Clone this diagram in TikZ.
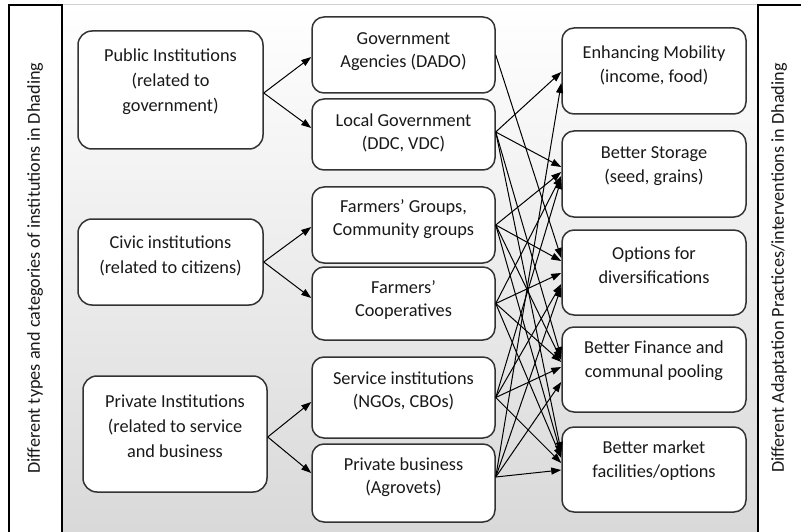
\documentclass[tikz,border=0pt]{standalone}
\usepackage{fontspec}
\setmainfont{Carlito}
\usetikzlibrary{arrows.meta}
\begin{document}
\begin{tikzpicture}[x=1pt,y=-1pt,
  box/.style={draw=black!80, line width=1.5pt, fill=white, rounded corners=12pt, inner sep=0pt},
  labbox/.style={draw=black, line width=1.2pt, fill=white, inner sep=0pt},
  txt/.style={align=center, font=\fontsize{18.3}{25}\selectfont, text=black!90, inner sep=0pt},
  mtxt/.style={txt, font=\fontsize{18.3}{23}\selectfont},
  rtxt/.style={txt, font=\fontsize{18.3}{24}\selectfont},
  vtxt/.style={font=\fontsize{18.2}{22}\selectfont, text=black!90, inner sep=0pt, rotate=90},
  arr/.style={-{Triangle[length=10pt,width=7pt]}, line width=1pt},
]
\useasboundingbox (0,0) rectangle (801,532);
% background
\fill[top color=white, bottom color=gray!30] (62,5) rectangle (758,534);
\draw[gray!35, line width=1pt] (62,5) -- (758,5);
% side label boxes
\node[labbox, minimum width=53pt, minimum height=528pt] (labL) at (35.5,269) {};
\node[vtxt] (labLt) at (35,268) {Different types and categories of institutions in Dhading};
\node[labbox, minimum width=47pt, minimum height=528pt] (labR) at (781.5,269) {};
\node[vtxt] (labRt) at (779,268) {Different Adaptation Practices/interventions in Dhading};
% left boxes
\node[box, rounded corners=14pt, minimum width=185pt, minimum height=118pt] (pub) at (170.5,90) {};
\node[txt] (pubt) at (170.5,81.5) {Public Institutions\\(related to\\government)};
\node[box, rounded corners=14pt, minimum width=185pt, minimum height=86pt] (civ) at (170.5,262) {};
\node[txt] (civt) at (170.5,255.5) {Civic institutions\\(related to citizens)};
\node[box, rounded corners=14pt, minimum width=184pt, minimum height=116pt] (pri) at (175,434) {};
\node[txt] (prit) at (175,426) {Private Institutions\\(related to service\\and business};
% middle boxes
\node[box, minimum width=183pt, minimum height=76pt] (ga) at (403.5,55) {};
\node[mtxt] (gat) at (403.5,51.5) {Government\\Agencies (DADO)};
\node[box, minimum width=183pt, minimum height=71pt] (lg) at (403.5,134.5) {};
\node[mtxt] (lgt) at (403.5,132.5) {Local Government\\(DDC, VDC)};
\node[box, minimum width=183pt, minimum height=76pt] (fg) at (403.5,225) {};
\node[mtxt] (fgt) at (403.5,219.5) {Farmers’ Groups,\\Community groups};
\node[box, minimum width=183pt, minimum height=73pt] (fc) at (403.5,303.5) {};
\node[mtxt] (fct) at (403.5,300) {Farmers’\\Cooperatives};
\node[box, minimum width=183pt, minimum height=81pt] (si) at (403.5,397.5) {};
\node[mtxt] (sit) at (403.5,390.5) {Service institutions\\(NGOs, CBOs)};
\node[box, minimum width=183pt, minimum height=78pt] (pb) at (403.5,483) {};
\node[mtxt] (pbt) at (403.5,477.5) {Private business\\(Agrovets)};
% right boxes
\node[box, minimum width=184pt, minimum height=86pt] (em) at (654,71) {};
\node[rtxt] (emt) at (654,65.5) {Enhancing Mobility\\(income, food)};
\node[box, minimum width=184pt, minimum height=86pt] (bs) at (654,174) {};
\node[rtxt] (bst) at (654,166) {Better Storage\\(seed, grains)};
\node[box, minimum width=184pt, minimum height=85pt] (od) at (654,272.5) {};
\node[rtxt] (odt) at (654,265) {Options for\\diversifications};
\node[box, minimum width=184pt, minimum height=85pt] (bf) at (654,369.5) {};
\node[rtxt] (bft) at (654,361) {Better Finance and\\communal pooling};
\node[box, minimum width=184pt, minimum height=85pt] (bm) at (654,469.5) {};
\node[rtxt] (bmt) at (654,461) {Better market\\facilities/options};
% left -> middle
\draw[arr] ([yshift=-3pt]pub.east) -- ([yshift=-2pt]ga.west);
\draw[arr] ([yshift=-3pt]pub.east) -- ([yshift=6.5pt]lg.west);
\draw[arr] (civ.east) -- ([yshift=-2pt]fg.west);
\draw[arr] (civ.east) -- ([yshift=5.5pt]fc.west);
\draw[arr] ([yshift=-3pt]pri.east) -- ([yshift=-4.5pt]si.west);
\draw[arr] ([yshift=-3pt]pri.east) -- ([yshift=10pt]pb.west);
% middle -> right
\draw[arr] (ga.east) -- ([yshift=14.5pt]od.west);
\draw[arr] ([yshift=2.5pt]lg.east) -- ([yshift=-1pt]em.west);
\draw[arr] ([yshift=2.5pt]lg.east) -- ([yshift=7pt]bs.west);
\draw[arr] ([yshift=2.5pt]lg.east) -- ([yshift=12.5pt]bf.west);
\draw[arr] ([yshift=2.5pt]lg.east) -- ([yshift=17.5pt]bm.west);
\draw[arr] (fg.east) -- ([yshift=2pt]bs.west);
\draw[arr] (fg.east) -- ([yshift=11.5pt]od.west);
\draw[arr] (fg.east) -- ([yshift=9.5pt]bf.west);
\draw[arr] (fg.east) -- ([yshift=14.5pt]bm.west);
\draw[arr] (fc.east) -- ([yshift=-2pt]bs.west);
\draw[arr] (fc.east) -- ([yshift=-0.5pt]od.west);
\draw[arr] (fc.east) -- ([yshift=7.5pt]bf.west);
\draw[arr] (fc.east) -- ([yshift=11.5pt]bm.west);
\draw[arr] (si.east) -- ([yshift=-5pt]bs.west);
\draw[arr] (si.east) -- ([yshift=-11.5pt]od.west);
\draw[arr] (si.east) -- ([yshift=2.5pt]bf.west);
\draw[arr] (si.east) -- ([yshift=6.5pt]bm.west);
\draw[arr] ([yshift=6pt]pb.east) -- ([yshift=-12pt]em.west);
\draw[arr] ([yshift=6pt]pb.east) -- ([yshift=-14.5pt]od.west);
\draw[arr] ([yshift=6pt]pb.east) -- ([yshift=-12.5pt]bf.west);
\draw[arr] ([yshift=6pt]pb.east) -- ([yshift=-0.5pt]bm.west);
\end{tikzpicture}
\end{document}
